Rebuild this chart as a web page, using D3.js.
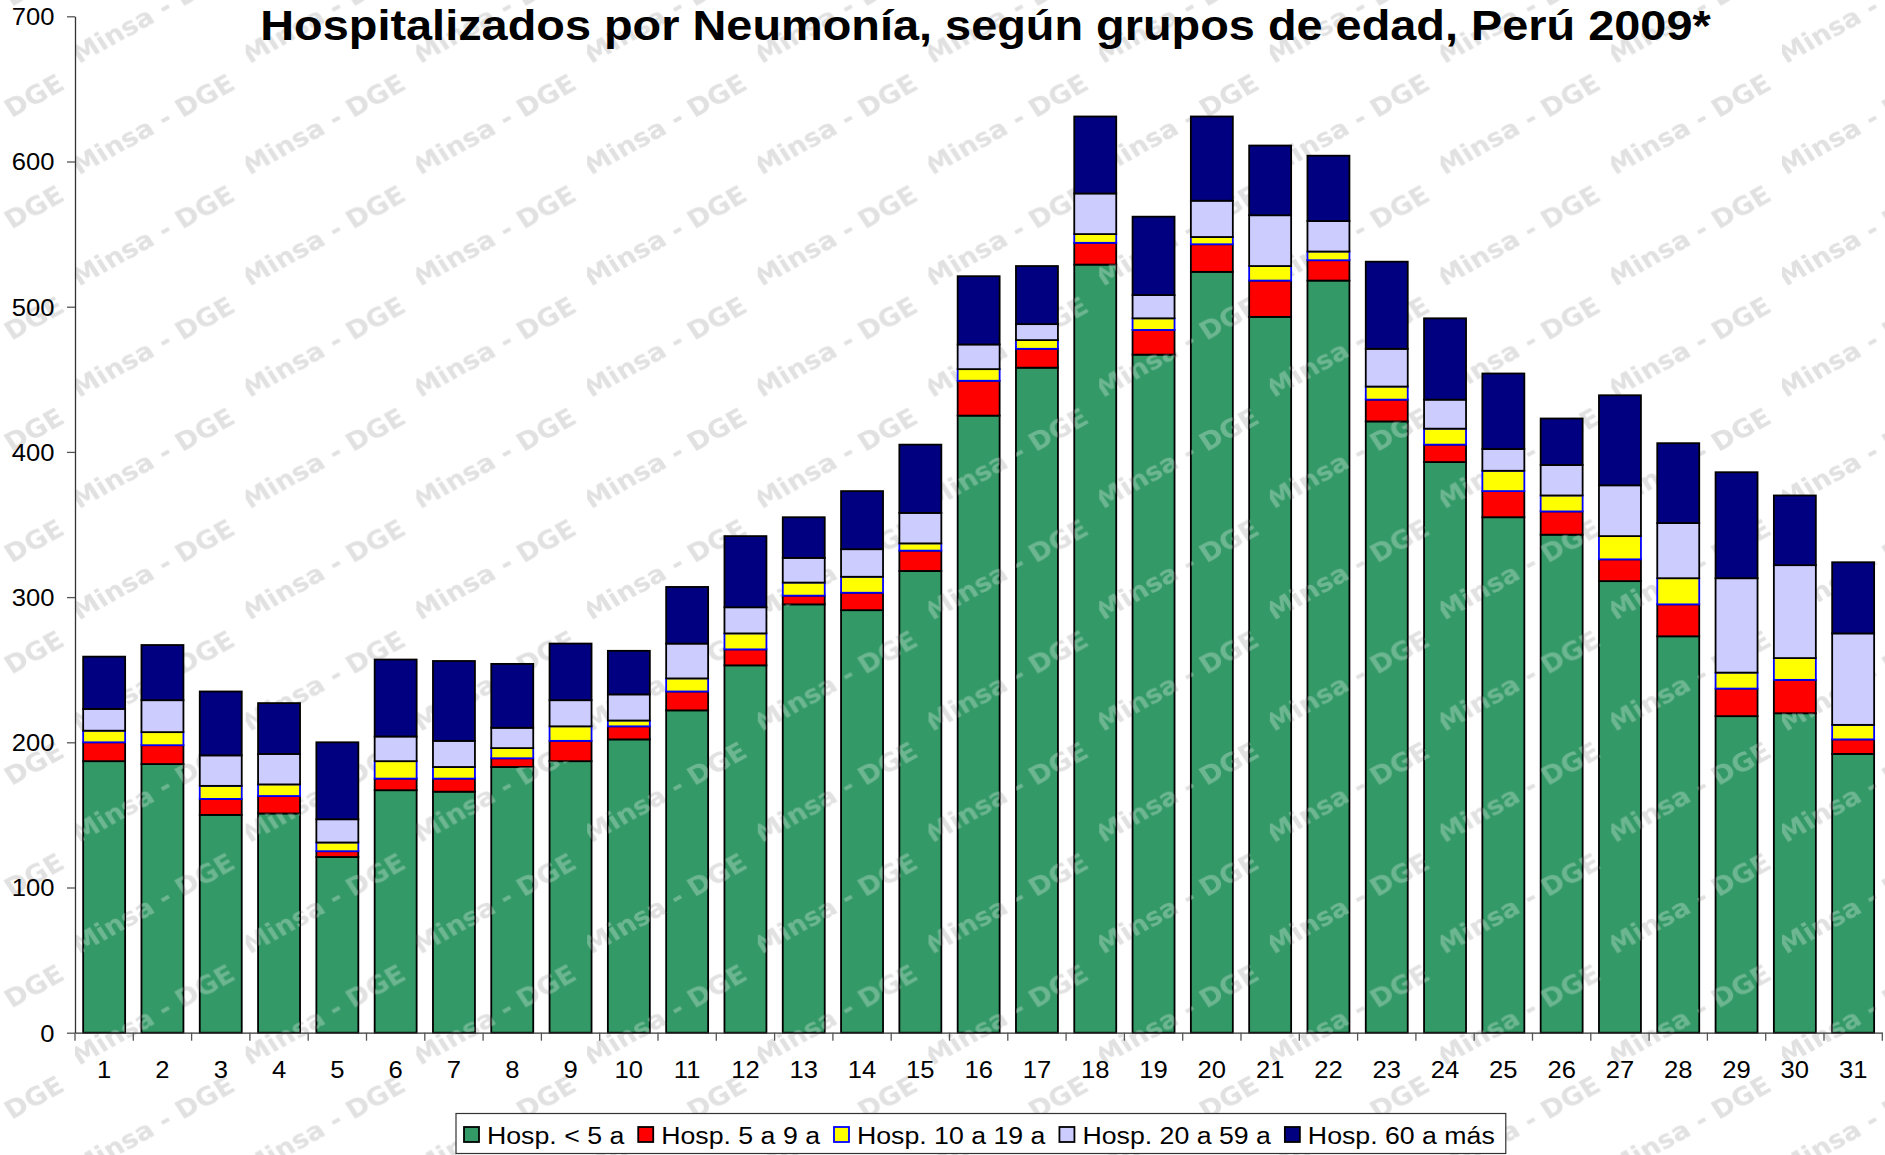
<!DOCTYPE html>
<html><head><meta charset="utf-8">
<script src="https://cdn.jsdelivr.net/npm/d3@7"></script>
<style>body{margin:0;background:#fff}svg{display:block}</style>
</head><body><svg id="c" width="1885" height="1155"></svg>
<script>
// ---------------- DATA ----------------
const categories = ["1","2","3","4","5","6","7","8","9","10","11","12","13","14","15","16","17","18","19","20","21","22","23","24","25","26","27","28","29","30","31"];
const seriesNames = ["Hosp. < 5 a","Hosp. 5 a 9 a","Hosp. 10 a 19 a","Hosp. 20 a 59 a","Hosp. 60 a más"];
const hospMenor5 = [187,185,150,151,121,167,166,183,187,202,222,253,295,291,318,425,458,529,467,524,493,518,421,393,355,343,311,273,218,220,192];
const hosp5a9    = [13,13,11,12,4,8,9,6,14,9,13,11,6,12,14,24,13,15,17,19,25,14,15,12,18,16,15,22,19,23,10];
const hosp10a19  = [8,9,9,8,6,12,8,7,10,4,9,11,9,11,5,8,6,6,8,5,10,6,9,11,14,11,16,18,11,15,10];
const hosp20a59  = [15,22,21,21,16,17,18,14,18,18,24,18,17,19,21,17,11,28,16,25,35,21,26,20,15,21,35,38,65,64,63];
const hosp60mas  = [36,38,44,35,53,53,55,44,39,30,39,49,28,40,47,47,40,53,54,58,48,45,60,56,52,32,62,55,73,48,49];
const yTicks = [0,100,200,300,400,500,600,700];
const chartTitle = "Hospitalizados por Neumonía, según grupos de edad, Perú 2009*";
const watermarkText = "Minsa - DGE";

// ---------------- STYLE ----------------
const fills   = ["#339966","#FF0000","#FFFF00","#CCCCFF","#000080"];
const strokes = ["#000000","#000000","#0000FF","#000000","#000000"];
const FONT = "'Liberation Sans', Arial, sans-serif";
const SX = 1.09; // horizontal stretch of the original picture

const W = 1885, H = 1155;
const L = 75, R = 1882.3, Y0 = 1032.7, YT = 16.3;

const svg = d3.select("#c");
const x = d3.scaleBand().domain(categories).range([L, R]).paddingInner(0.28).paddingOuter(0.14);
const y = d3.scaleLinear().domain([0, 700]).range([Y0, YT]);

const seriesArrays = [hospMenor5, hosp5a9, hosp10a19, hosp20a59, hosp60mas];
const keys = seriesNames;
const rows = categories.map((c, i) => {
  const r = {cat: c};
  keys.forEach((k, j) => r[k] = seriesArrays[j][i]);
  return r;
});
const stacked = d3.stack().keys(keys)(rows);

// ---------------- DEFS (watermark) ----------------
const defs = svg.append("defs");
function makePattern(id, color) {
  const p = defs.append("pattern").attr("id", id)
    .attr("patternUnits", "userSpaceOnUse")
    .attr("x", L).attr("y", 68.3).attr("width", 170.7).attr("height", 111.3);
  p.append("text")
    .attr("transform", `translate(4,107) scale(${SX},1) rotate(-31)`)
    .attr("font-family", "'DejaVu Sans', Verdana, sans-serif")
    .attr("font-weight", "bold").attr("font-size", 25)
    .attr("fill", color).text(watermarkText);
}
makePattern("wm", "#e1e1e1");
makePattern("wmw", "#ffffff");
const gclip = defs.append("clipPath").attr("id", "greenClip");
gclip.selectAll("rect").data(stacked[0]).join("rect")
  .attr("x", d => x(d.data.cat)).attr("y", d => y(d[1]))
  .attr("width", x.bandwidth()).attr("height", d => y(d[0]) - y(d[1]));

// background + watermark
svg.append("rect").attr("width", W).attr("height", H).attr("fill", "#fff");
svg.append("rect").attr("width", W).attr("height", H).attr("fill", "url(#wm)");

// ---------------- BARS ----------------
svg.append("g").selectAll("g").data(stacked).join("g")
  .attr("fill", (d, i) => fills[i]).attr("stroke", (d, i) => strokes[i])
  .attr("stroke-width", 1.8)
  .selectAll("rect").data(d => d).join("rect")
  .attr("x", d => x(d.data.cat)).attr("y", d => y(d[1]))
  .attr("width", x.bandwidth()).attr("height", d => y(d[0]) - y(d[1]));

// watermark lightening over green
svg.append("rect").attr("width", W).attr("height", H)
  .attr("fill", "url(#wmw)").attr("clip-path", "url(#greenClip)").attr("opacity", 0.28);

// ---------------- AXES ----------------
const yAxis = svg.append("g").attr("transform", `translate(${L},0)`)
  .call(d3.axisLeft(y).tickValues(yTicks).tickSize(8).tickSizeOuter(0).tickFormat(d3.format("d")));
yAxis.select(".domain").attr("stroke", "#333").attr("stroke-width", 1.3);
yAxis.selectAll(".tick line").attr("stroke", "#555").attr("stroke-width", 1.3);
yAxis.selectAll(".tick text")
  .attr("x", -(L - 54.5) / SX).attr("dy", 8.3)
  .attr("transform", `scale(${SX},1)`)
  .attr("font-family", FONT).attr("font-size", 23.5).attr("fill", "#000");

const xAxis = svg.append("g").attr("transform", `translate(0,${Y0})`)
  .call(d3.axisBottom(x).tickSize(0).tickSizeOuter(0));
xAxis.select(".domain").attr("stroke", "#333").attr("stroke-width", 1.3);
xAxis.selectAll(".tick text")
  .attr("y", 45.6).attr("dy", 0)
  .attr("transform", `scale(${SX},1)`)
  .attr("font-family", FONT).attr("font-size", 23.5).attr("fill", "#000");
const gap = (x.step() - x.bandwidth()) / 2;
const boundaries = categories.map(c => x(c) - gap).concat([x.range()[1]]);
svg.append("g").selectAll("line").data(boundaries).join("line")
  .attr("x1", d => d).attr("x2", d => d).attr("y1", Y0).attr("y2", Y0 + 8)
  .attr("stroke", "#555").attr("stroke-width", 1.3);

// ---------------- TITLE ----------------
svg.append("text")
  .attr("transform", `translate(985.5,39.5) scale(${SX},1)`)
  .attr("text-anchor", "middle")
  .attr("font-family", FONT).attr("font-weight", "bold").attr("font-size", 43)
  .attr("fill", "#000").text(chartTitle);

// ---------------- LEGEND ----------------
const lg = svg.append("g");
const box = lg.append("rect").attr("x", 456).attr("y", 1113.5).attr("height", 40)
  .attr("fill", "#fff").attr("stroke", "#333").attr("stroke-width", 1.2);
let cx = 464;
seriesNames.forEach((name, i) => {
  lg.append("rect").attr("x", cx).attr("y", 1127).attr("width", 15).attr("height", 15)
    .attr("fill", fills[i]).attr("stroke", strokes[i]).attr("stroke-width", 1.8);
  const t = lg.append("text")
    .attr("transform", `translate(${cx + 23},1144) scale(${SX},1)`)
    .attr("font-family", FONT).attr("font-size", 24.5).attr("fill", "#000").text(name);
  const w = t.node().getComputedTextLength() * SX;
  cx = cx + 23 + w + 14;
});
box.attr("width", cx - 14 + 11 - 456);
</script></body></html>
